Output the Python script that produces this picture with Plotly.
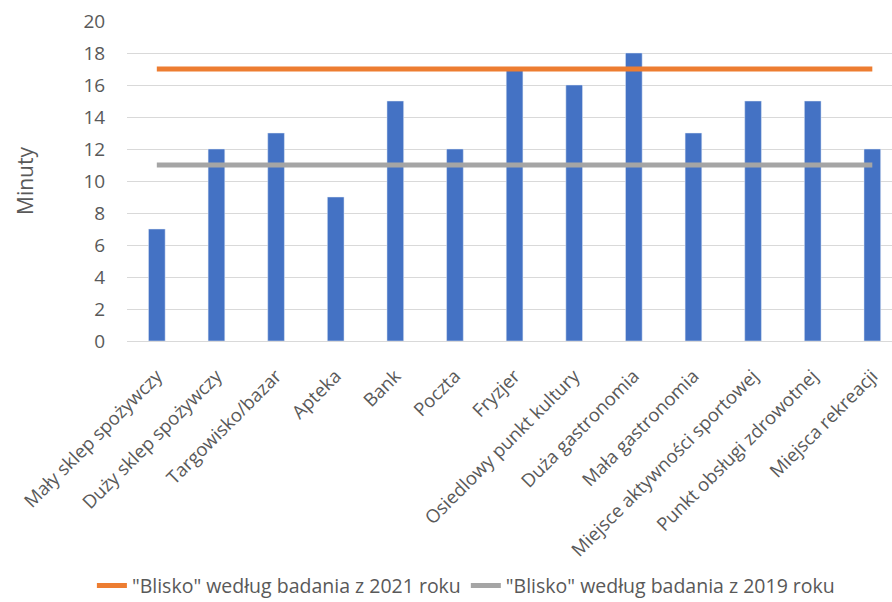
import plotly.graph_objects as go

categories = ["Mały sklep spożywczy", "Duży sklep spożywczy", "Targowisko/bazar", "Apteka",
              "Bank", "Poczta", "Fryzjer", "Osiedlowy punkt kultury", "Duża gastronomia",
              "Mała gastronomia", "Miejsce aktywności sportowej", "Punkt obsługi zdrowotnej",
              "Miejsca rekreacji"]
minutes = [7, 12, 13, 9, 15, 12, 17, 16, 18, 13, 15, 15, 12]
blisko_2021 = [17] * len(categories)
blisko_2019 = [11] * len(categories)
name_2021 = '"Blisko" według badania z 2021 roku'
name_2019 = '"Blisko" według badania z 2019 roku'
y_ticks = list(range(0, 21, 2))

font_family = "Open Sans, Liberation Sans, sans-serif"
txt = "#595959"
clear = "rgba(0,0,0,0)"

fig = go.Figure()
fig.add_trace(go.Bar(x=categories, y=minutes, marker=dict(color="#4472C4"),
                     width=0.28, showlegend=False))
fig.add_trace(go.Scatter(x=categories, y=blisko_2021, mode="lines", name=name_2021,
                         line=dict(color="#ED7D31", width=5)))
fig.add_trace(go.Scatter(x=categories, y=blisko_2019, mode="lines", name=name_2019,
                         line=dict(color="#A5A5A5", width=5)))

fig.update_layout(
    width=892, height=602,
    margin=dict(l=127, r=0, t=21, b=261, autoexpand=False),
    paper_bgcolor="white", plot_bgcolor="white",
    font=dict(family=font_family, color=txt, size=18),
    xaxis=dict(range=[-0.5, 12.33], tickangle=-45, tickfont=dict(size=18.5, color=txt),
               showgrid=False, showline=False, zeroline=False, automargin=False,
               ticks="outside", ticklen=16, tickcolor=clear),
    yaxis=dict(range=[0, 20], tickvals=y_ticks, tickfont=dict(size=19, color=txt),
               showgrid=True, gridcolor="#D9D9D9", gridwidth=1,
               zeroline=True, zerolinecolor="#D9D9D9", zerolinewidth=1,
               showline=False, automargin=False,
               ticks="outside", ticklen=17, tickcolor=clear,
               title=dict(text="Minuty", font=dict(size=21, color=txt), standoff=44)),
    legend=dict(orientation="h", x=0.443, xanchor="center", y=-0.765, yanchor="middle",
                font=dict(size=19.5, color=txt), tracegroupgap=0,
                bgcolor=clear),
)

fig.write_html("out.html")
